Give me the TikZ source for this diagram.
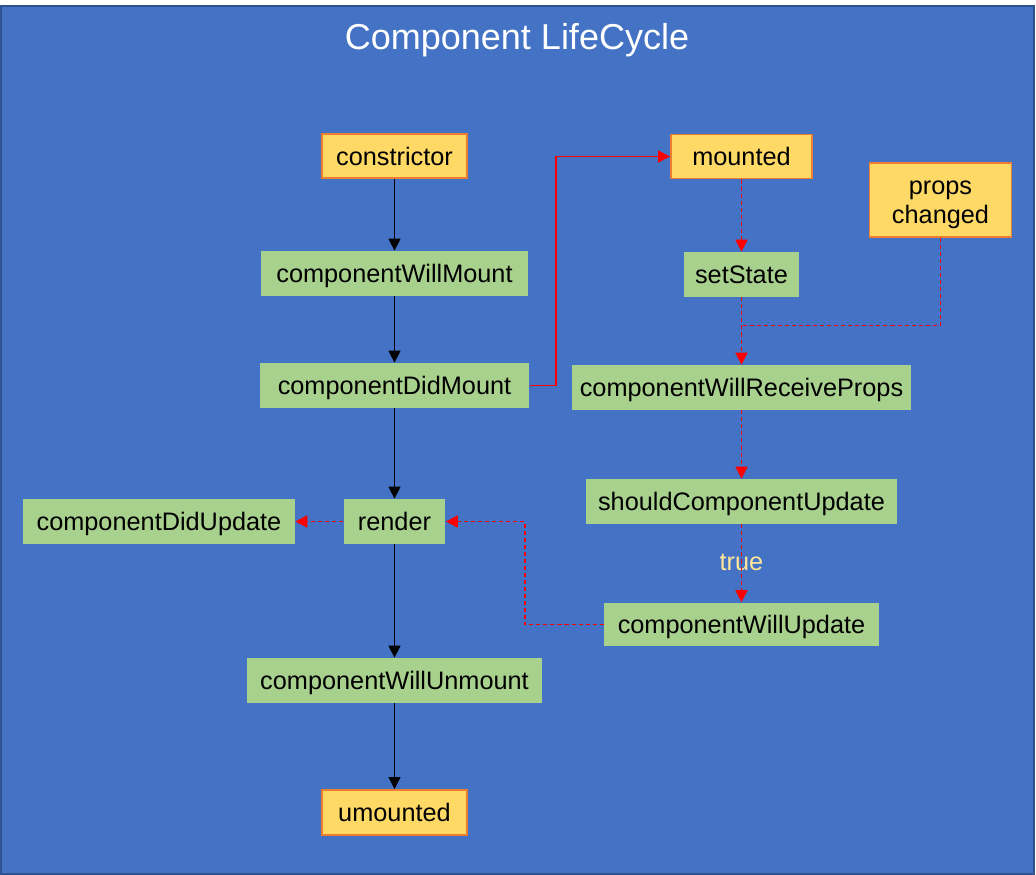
\documentclass[tikz,border=0pt]{standalone}
\usepackage{fontspec}
\setmainfont{Liberation Sans}
\usepackage{tikz}
\usetikzlibrary{arrows.meta}
\usepackage{xcolor}

\definecolor{bgblue}{HTML}{4472C4}
\definecolor{frameblue}{HTML}{2F528F}
\definecolor{stategold}{HTML}{FFD966}
\definecolor{stateedge}{HTML}{ED7D31}
\definecolor{hookgreen}{HTML}{A9D18E}
\definecolor{truecol}{HTML}{FFE699}

\tikzset{
	statebox/.style={fill=stategold, draw=stateedge, line width=1.1pt, inner sep=0pt, align=center,
		text height=10.3pt, text depth=0pt, font=\fontsize{14.4}{16.5}\selectfont},
	hookbox/.style={fill=hookgreen, inner sep=0pt, minimum height=0.9cm,
		text height=10.3pt, text depth=0pt, font=\fontsize{14.4}{16.5}\selectfont},
	flow/.style={black, line width=0.6pt, -{Triangle[length=0.24cm, width=0.24cm]}},
	redflow/.style={red, line width=1pt, -{Triangle[length=0.24cm, width=0.24cm]}},
	reddash/.style={redflow, dash pattern=on 2.3pt off 1.7pt},
}

\begin{document}
\begin{tikzpicture}[x=0.02cm, y=-0.02cm]
	\useasboundingbox (0,0) rectangle (1036,875);
	\draw[fill=bgblue, draw=frameblue, line width=1.2pt] (1,6) rectangle (1034,874);
	\node[text=white, font=\fontsize{20.5}{24}\selectfont] (title) at (517,40) {Component LifeCycle};

	% left column
	\node[statebox, minimum width=2.9cm, minimum height=0.88cm] (ctor) at (394.5,156) {constrictor};
	\node[hookbox, minimum width=5.34cm] (willmount) at (394.5,273.5) {componentWillMount};
	\node[hookbox, minimum width=5.4cm] (didmount) at (394.5,385.5) {componentDidMount};
	\node[hookbox, minimum width=2.04cm] (render) at (394.5,521.5) {render};
	\node[hookbox, minimum width=5.44cm] (didupdate) at (159,521.5) {componentDidUpdate};
	\node[hookbox, minimum width=5.9cm] (willunmount) at (394.5,680.5) {componentWillUnmount};
	\node[statebox, minimum width=2.9cm, minimum height=0.9cm] (umounted) at (394.5,812.5) {umounted};

	% right column
	\node[statebox, minimum width=2.82cm, minimum height=0.88cm] (mounted) at (741.5,156.5) {mounted};
	\node[statebox, minimum width=2.84cm, minimum height=1.48cm, text height=26.8pt] (props) at (940.5,200) {props\\changed};
	\node[hookbox, minimum width=2.32cm] (setstate) at (741.5,274.5) {setState};
	\node[hookbox, minimum width=6.78cm] (willreceive) at (741.5,387.5) {componentWillReceiveProps};
	\node[hookbox, minimum width=6.22cm] (shouldupdate) at (741.5,501.5) {shouldComponentUpdate};
	\node[hookbox, minimum width=5.5cm, minimum height=0.88cm] (willupdate) at (741.5,624.5) {componentWillUpdate};
	\node[text=truecol, font=\fontsize{14.4}{16.5}\selectfont] (truelbl) at (741.5,562) {true};
	\coordinate (join) at (741.5,325.5);

	\draw[flow] (ctor) -- (willmount);
	\draw[flow] (willmount) -- (didmount);
	\draw[flow] (didmount) -- (render);
	\draw[flow] (render) -- (willunmount);
	\draw[flow] (willunmount) -- (umounted);

	\draw[redflow] (didmount.east) -- ++(26,0) |- (mounted.west);
	\draw[reddash] (mounted) -- (setstate);
	\draw[reddash] (setstate) -- (willreceive);
	\draw[red, line width=0.7pt, dash pattern=on 2.3pt off 1.7pt] (props.south) |- (join);
	\draw[reddash] (willreceive) -- (shouldupdate);
	\draw[reddash] (shouldupdate) -- (willupdate);
	\draw[reddash] (willupdate.west) -- ++(-79,0) |- (render.east);
	\draw[reddash] (render.west) -- (didupdate.east);
\end{tikzpicture}
\end{document}
